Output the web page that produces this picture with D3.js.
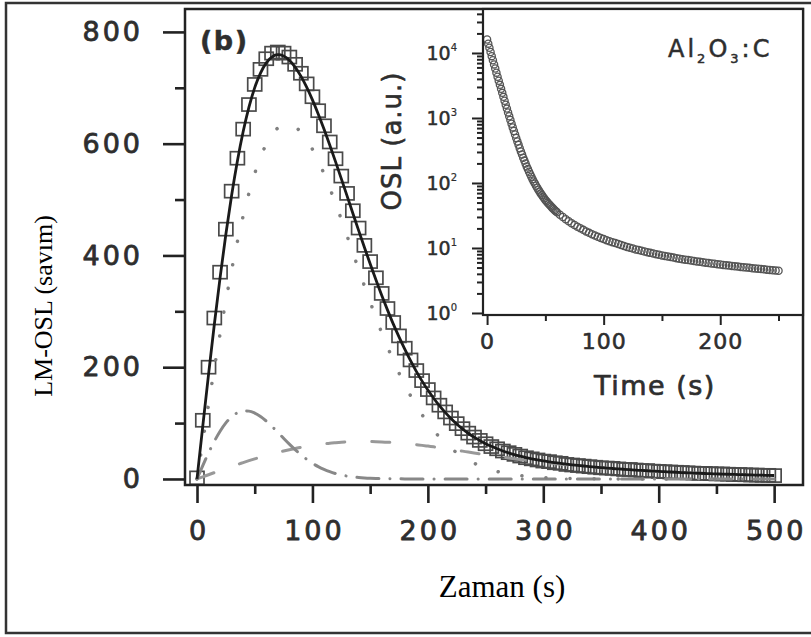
<!DOCTYPE html>
<html>
<head>
<meta charset="utf-8">
<script src="https://cdn.jsdelivr.net/npm/d3@7"></script>
<style>
  html, body { margin: 0; padding: 0; background: #fff; }
  svg { display: block; }
</style>
</head>
<body>
<div id="chart"></div>
<script>
// ---- main plot data (LM-OSL, one point every 5 s) ----
var lmTime = d3.range(0, 505, 5);
// measured points (squares)
var lmMeasured = [
  2, 105, 200, 288, 370, 447, 515, 574, 626, 670,
  706, 733, 752, 762, 764, 762, 755, 742, 726, 707,
  684, 659, 632, 603, 573, 542, 511, 480, 449, 418,
  389, 360, 332, 305, 280, 256, 234, 213, 194, 176,
  160, 145, 132, 120, 109, 99, 90, 82, 75, 69,
  63, 58, 54, 50, 47, 44, 41, 38, 36, 34,
  32, 31, 29, 28, 26, 25, 24, 23, 22, 21,
  20, 19.5, 19, 18, 17, 17, 16, 15, 15, 14,
  13.5, 13, 12.5, 12, 11.5, 11, 10.5, 10, 10, 9.5,
  9, 9, 8.5, 8, 8, 7.5, 7, 7, 6.5, 6.5,
  6
];
// fitted sum (solid line)
var lmFit = [
  0, 94.6, 187.3, 276.4, 360.4, 437.9, 507.7, 569.1, 621.7, 665.5,
  700.3, 726.4, 744.7, 755.3, 759.2, 756.9, 749.3, 737.0, 720.8, 701.0,
  678.3, 653.1, 626.1, 597.6, 567.8, 537.4, 506.6, 475.6, 444.8, 414.6,
  385.0, 356.4, 328.7, 302.6, 277.5, 254.2, 232.2, 211.6, 192.6, 175.1,
  159.1, 144.5, 131.3, 119.2, 108.3, 98.5, 89.7, 81.8, 74.8, 68.7,
  63.2, 58.4, 54.0, 50.1, 46.6, 43.5, 40.8, 38.3, 36.1, 34.1,
  32.3, 30.7, 29.2, 27.7, 26.5, 25.3, 24.2, 23.2, 22.2, 21.3,
  20.4, 19.5, 18.7, 18.0, 17.3, 16.6, 15.9, 15.3, 14.7, 14.1,
  13.5, 13.0, 12.5, 12.0, 11.5, 11.0, 10.6, 10.2, 9.8, 9.4,
  9.1, 8.7, 8.4, 8.1, 7.8, 7.5, 7.2, 6.9, 6.7, 6.4,
  6.2
];
// components
var lmDotted = [
  0, 67.0, 133.1, 197.6, 259.8, 318.8, 374.0, 424.8, 470.7, 511.4,
  546.5, 575.7, 599.1, 616.5, 628.1, 634.0, 634.6, 630.0, 620.8, 607.4,
  590.1, 569.5, 546.2, 520.6, 493.2, 464.6, 435.1, 405.2, 375.3, 345.8,
  316.9, 288.9, 261.9, 236.4, 212.2, 189.6, 168.6, 149.1, 131.3, 115.0,
  100.3, 87.0, 75.2, 64.6, 55.3, 47.1, 39.9, 33.7, 28.3, 23.7,
  19.7, 16.4, 13.5, 11.1, 9.1, 7.4, 6.0, 4.8, 3.9, 3.1,
  2.5, 2.0, 1.6, 1.2, 1.0, 0.8, 0.6, 0.5, 0.4, 0.3,
  0.2, 0.2, 0.1, 0.1, 0.1, 0, 0, 0, 0, 0,
  0, 0, 0, 0, 0, 0, 0, 0, 0, 0,
  0, 0, 0, 0, 0, 0, 0, 0, 0, 0,
  0
];
var lmDashDot = [
  0, 23.8, 46.6, 67.4, 85.5, 100.3, 111.3, 118.4, 121.7, 121.4,
  117.9, 111.7, 103.6, 94.0, 83.6, 72.9, 62.4, 52.5, 43.4, 35.2,
  28.1, 22.1, 17.1, 13.0, 9.7, 7.1, 5.2, 3.7, 2.6, 1.8,
  1.2, 0.8, 0.5, 0.4, 0.2, 0.2, 0.1, 0, 0, 0,
  0, 0, 0, 0, 0, 0, 0, 0, 0, 0,
  0, 0, 0, 0, 0, 0, 0, 0, 0, 0,
  0, 0, 0, 0, 0, 0, 0, 0, 0, 0,
  0, 0, 0, 0, 0, 0, 0, 0, 0, 0,
  0, 0, 0, 0, 0, 0, 0, 0, 0, 0,
  0, 0, 0, 0, 0, 0, 0, 0, 0, 0,
  0
];
var lmDashed = [
  0, 3.8, 7.6, 11.4, 15.1, 18.8, 22.4, 25.9, 29.3, 32.7,
  35.9, 39.0, 42.0, 44.8, 47.5, 50.0, 52.3, 54.5, 56.6, 58.4,
  60.1, 61.5, 62.8, 64.0, 64.9, 65.7, 66.3, 66.7, 66.9, 67.0,
  66.9, 66.7, 66.3, 65.8, 65.1, 64.4, 63.5, 62.5, 61.3, 60.1,
  58.8, 57.5, 56.1, 54.6, 53.0, 51.4, 49.8, 48.1, 46.5, 45.0,
  43.5, 42.0, 40.5, 39.0, 37.5, 36.1, 34.8, 33.5, 32.2, 31.0,
  29.8, 28.7, 27.6, 26.5, 25.5, 24.5, 23.6, 22.7, 21.8, 21.0,
  20.2, 19.4, 18.6, 17.9, 17.2, 16.5, 15.8, 15.2, 14.6, 14.0,
  13.4, 12.9, 12.4, 11.9, 11.4, 10.9, 10.5, 10.1, 9.7, 9.3,
  9.0, 8.6, 8.3, 8.0, 7.7, 7.4, 7.1, 6.8, 6.6, 6.3,
  6.1
];
var xTicksMain = [0, 100, 200, 300, 400, 500];
var xMinorMain = [50, 150, 250, 350, 450];
var yTicksMain = [0, 200, 400, 600, 800];
var yMinorMain = [100, 300, 500, 700];

// ---- inset data (OSL decay: every 1 s up to 59 s, then every 2.5 s) ----
var cwTime = d3.range(0, 60, 1).concat(d3.range(60, 252.5, 2.5));
var cwOsl = [
  16146, 13921, 12007, 10359, 8941, 7720, 6669, 5764, 4985, 4313,
  3734, 3235, 2806, 2435, 2115, 1839, 1601, 1395, 1218, 1064,
  931, 816, 717, 631, 556, 491, 435, 386, 343, 306,
  274, 245, 221, 199, 180, 163.5, 148.9, 136.1, 124.7, 114.6,
  105.7, 97.8, 90.7, 84.4, 78.8, 73.7, 69.2, 65.1, 61.3, 58.0,
  54.9, 52.2, 49.7, 47.3, 45.3, 43.3, 41.4, 39.8, 38.2, 36.8,
  // from 60 s, step 2.5 s
  35.4, 32.4, 29.9, 27.7, 25.8, 24.1, 22.6, 21.3, 20.1, 19.0,
  18.0, 17.1, 16.3, 15.6, 14.9, 14.3, 13.8, 13.2, 12.7, 12.3,
  11.9, 11.5, 11.1, 10.7, 10.4, 10.1, 9.8, 9.5, 9.3, 9.06,
  8.83, 8.61, 8.41, 8.21, 8.04, 7.86, 7.68, 7.52, 7.38, 7.24,
  7.11, 6.98, 6.85, 6.73, 6.62, 6.52, 6.41, 6.31, 6.22, 6.12,
  6.04, 5.95, 5.87, 5.78, 5.71, 5.64, 5.56, 5.49, 5.43, 5.36,
  5.30, 5.24, 5.17, 5.11, 5.05, 5.00, 4.95, 4.89, 4.84, 4.79,
  4.74, 4.69, 4.64, 4.60, 4.55, 4.51, 4.46
];
var xTicksInset = [0, 100, 200];
var xMinorInset = [50, 150, 250];
var yDecadesInset = [1, 10, 100, 1000, 10000];

// ---- layout ----
var width = 811, height = 637;
var sansFont = "'DejaVu Sans', Verdana, sans-serif";
var serifFont = "'Liberation Serif', 'Times New Roman', serif";
var textGray = "#2e2e2e";

var svg = d3.select("#chart").append("svg")
  .attr("width", width).attr("height", height);

svg.append("rect").attr("width", width).attr("height", height).attr("fill", "#fff");

// outer frame (right edge falls outside the picture)
svg.append("rect")
  .attr("x", 6).attr("y", 3).attr("width", 830).attr("height", 630)
  .attr("fill", "none").attr("stroke", "#333").attr("stroke-width", 2.5);

var main = { left: 185, right: 803, top: 9, bottom: 485 };
var x = d3.scaleLinear().domain([-10.4, 525]).range([main.left, main.right]);
var y = d3.scaleLinear().domain([-10.8, 841]).range([main.bottom, main.top]);

var lineFor = function (values, times, sx, sy) {
  return d3.line()
    .x(function (d, i) { return sx(times[i]); })
    .y(function (d) { return sy(d); })
    .curve(d3.curveMonotoneX)(values);
};

// measured squares
var sqW = 14, sqH = 13;
svg.append("g").selectAll("rect")
  .data(lmMeasured)
  .enter()
  .append("rect")
  .attr("x", function (d, i) { return x(lmTime[i]) - sqW / 2; })
  .attr("y", function (d) { return y(d) - sqH / 2; })
  .attr("width", sqW).attr("height", sqH)
  .attr("fill", "none").attr("stroke", "#4a4a4a").attr("stroke-width", 1.7);

// components
svg.append("path").attr("d", lineFor(lmDashed, lmTime, x, y))
  .attr("fill", "none").attr("stroke", "#999").attr("stroke-width", 3)
  .attr("stroke-linecap", "round").attr("stroke-dasharray", "18,27");
svg.append("path").attr("d", lineFor(lmDashDot, lmTime, x, y))
  .attr("fill", "none").attr("stroke", "#888").attr("stroke-width", 3)
  .attr("stroke-linecap", "round").attr("stroke-dasharray", "22,11,0.1,11");
svg.append("path").attr("d", lineFor(lmDotted, lmTime, x, y))
  .attr("fill", "none").attr("stroke", "#808080").attr("stroke-width", 3.5)
  .attr("stroke-linecap", "round").attr("stroke-dasharray", "0.1,24");

// fitted sum
svg.append("path").attr("d", lineFor(lmFit, lmTime, x, y))
  .attr("fill", "none").attr("stroke", "#1a1a1a").attr("stroke-width", 2.8);

// main frame
svg.append("rect")
  .attr("x", main.left).attr("y", main.top)
  .attr("width", main.right - main.left).attr("height", main.bottom - main.top)
  .attr("fill", "none").attr("stroke", "#222").attr("stroke-width", 2.5);

// thicker strokes on the grey labels, like the blurred print
var heavyText = function (sel, w) {
  sel.attr("fill", textGray).attr("stroke", textGray).attr("stroke-width", w)
    .attr("stroke-linejoin", "round");
};

var styleAxis = function (g, size, spacing) {
  g.select(".domain").remove();
  g.attr("color", "#222").attr("font-family", sansFont).attr("font-size", size);
  g.selectAll(".tick line").attr("stroke-width", 2.6);
  g.selectAll("text").call(heavyText, 0.8).style("letter-spacing", spacing + "px");
};

// y axis (main)
svg.append("g").attr("transform", "translate(" + main.left + ",0)")
  .call(d3.axisLeft(y).tickValues(yTicksMain).tickSize(22).tickPadding(20))
  .call(styleAxis, 27, 3);
svg.append("g").attr("transform", "translate(" + main.left + ",0)")
  .call(d3.axisLeft(y).tickValues(yMinorMain).tickSize(10).tickFormat(""))
  .call(styleAxis, 27, 0);

// x axis (main)
svg.append("g").attr("transform", "translate(0," + main.bottom + ")")
  .call(d3.axisBottom(x).tickValues(xTicksMain).tickSize(18).tickPadding(18))
  .call(styleAxis, 27, 3)
  .selectAll("text").attr("dx", "1.5");
svg.append("g").attr("transform", "translate(0," + main.bottom + ")")
  .call(d3.axisBottom(x).tickValues(xMinorMain).tickSize(9).tickFormat(""))
  .call(styleAxis, 27, 0);

// panel label
svg.append("text").attr("x", 200).attr("y", 50)
  .attr("font-family", sansFont).attr("font-weight", "bold").attr("font-size", 27)
  .style("letter-spacing", "1.5px")
  .call(heavyText, 0.5)
  .text("(b)");

// axis titles (main)
svg.append("text")
  .attr("transform", "translate(52,306) rotate(-90)")
  .attr("text-anchor", "middle")
  .attr("font-family", serifFont).attr("font-size", 26).attr("fill", "#000")
  .text("LM-OSL (savım)");
svg.append("text")
  .attr("x", 502).attr("y", 597)
  .attr("text-anchor", "middle")
  .attr("font-family", serifFont).attr("font-size", 31).attr("fill", "#000")
  .text("Zaman (s)");

// ---- inset ----
var inset = { left: 483, right: 803, top: 9, bottom: 315 };
var xi = d3.scaleLinear().domain([-3.5, 271]).range([inset.left, inset.right]);
var yi = d3.scaleLog().domain([0.931, 47500]).range([inset.bottom, inset.top]);

svg.append("rect")
  .attr("x", inset.left).attr("y", inset.top)
  .attr("width", inset.right - inset.left).attr("height", inset.bottom - inset.top)
  .attr("fill", "#fff");

svg.append("g").selectAll("circle")
  .data(cwOsl)
  .enter()
  .append("circle")
  .attr("cx", function (d, i) { return xi(cwTime[i]); })
  .attr("cy", function (d) { return yi(d); })
  .attr("r", 3.6)
  .attr("fill", "none").attr("stroke", "#555").attr("stroke-width", 1.3);

svg.append("rect")
  .attr("x", inset.left).attr("y", inset.top)
  .attr("width", inset.right - inset.left).attr("height", inset.bottom - inset.top)
  .attr("fill", "none").attr("stroke", "#222").attr("stroke-width", 2.2);

// log minor ticks
var yMinorInset = [];
yDecadesInset.forEach(function (dec) {
  for (var k = 2; k <= 9; k++) {
    if (k * dec <= yi.domain()[1]) yMinorInset.push(k * dec);
  }
});

var styleInsetAxis = function (g, size) {
  g.select(".domain").remove();
  g.attr("color", "#222").attr("font-family", sansFont).attr("font-size", size);
  g.selectAll(".tick line").attr("stroke-width", 2);
  g.selectAll("text").call(heavyText, 0.6).style("letter-spacing", "1px");
};

svg.append("g").attr("transform", "translate(" + inset.left + ",0)")
  .call(d3.axisLeft(yi).tickValues(yDecadesInset).tickSize(11).tickFormat(""))
  .call(styleInsetAxis, 19);
svg.append("g").attr("transform", "translate(" + inset.left + ",0)")
  .call(d3.axisLeft(yi).tickValues(yMinorInset).tickSize(6).tickFormat(""))
  .call(styleInsetAxis, 19);

// decade labels with superscript
var decLabels = svg.append("g").selectAll("text")
  .data(yDecadesInset)
  .enter()
  .append("text")
  .attr("x", inset.left - 26)
  .attr("y", function (d) { return yi(d) + 7; })
  .attr("text-anchor", "end")
  .attr("font-family", sansFont).attr("font-size", 19)
  .call(heavyText, 0.5);
decLabels.append("tspan").text("10");
decLabels.append("tspan")
  .attr("font-size", 10).attr("dy", -9)
  .attr("stroke-width", 0.2)
  .text(function (d) { return Math.round(Math.log10(d)); });

svg.append("g").attr("transform", "translate(0," + inset.bottom + ")")
  .call(d3.axisBottom(xi).tickValues(xTicksInset).tickSize(10).tickPadding(8))
  .call(styleInsetAxis, 22);
svg.append("g").attr("transform", "translate(0," + inset.bottom + ")")
  .call(d3.axisBottom(xi).tickValues(xMinorInset).tickSize(6).tickFormat(""))
  .call(styleInsetAxis, 22);

// inset titles
svg.append("text")
  .attr("transform", "translate(401,141) rotate(-90)")
  .attr("text-anchor", "middle")
  .attr("font-family", sansFont).attr("font-size", 26)
  .style("letter-spacing", "1px")
  .call(heavyText, 0.6)
  .text("OSL (a.u.)");
svg.append("text")
  .attr("x", 655).attr("y", 395)
  .attr("text-anchor", "middle")
  .attr("font-family", sansFont).attr("font-size", 27)
  .style("letter-spacing", "1.5px")
  .call(heavyText, 0.7)
  .text("Time (s)");

var mat = svg.append("text")
  .attr("x", 668).attr("y", 57)
  .attr("font-family", sansFont).attr("font-size", 24)
  .style("letter-spacing", "3px")
  .call(heavyText, 0.5);
mat.append("tspan").text("Al");
mat.append("tspan").attr("font-size", 13).attr("dy", 6).text("2");
mat.append("tspan").attr("dy", -6).text("O");
mat.append("tspan").attr("font-size", 13).attr("dy", 6).text("3");
mat.append("tspan").attr("dy", -6).text(":C");
</script>
</body>
</html>
